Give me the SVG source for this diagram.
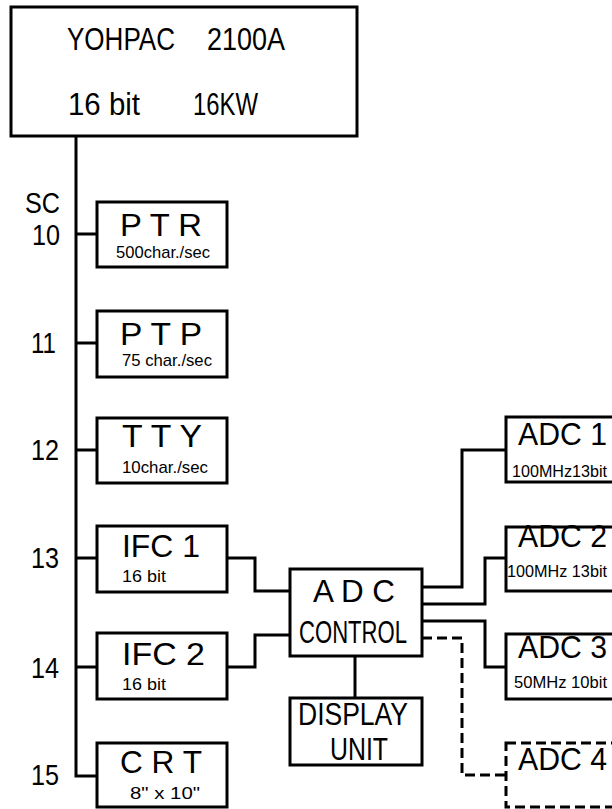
<svg xmlns="http://www.w3.org/2000/svg" width="612" height="809" viewBox="0 0 612 809">
<style>
.box{fill:#fff;stroke:#000;stroke-width:3}
.dbox{fill:#fff;stroke:#000;stroke-width:3;stroke-dasharray:10 5}
.ln{fill:none;stroke:#000;stroke-width:3}
.dln{fill:none;stroke:#000;stroke-width:3;stroke-dasharray:10 5}
text{font-family:"Liberation Sans","DejaVu Sans",sans-serif;fill:#000}
.big{font-size:31px}
.sm{font-size:17px}
.lbl{font-size:29px}
.top{font-size:32px}
</style>
<rect width="612" height="809" fill="#fff"/>
<g id="connectors">
<path class="ln" d="M76 136 V776 H97"/>
<path class="ln" d="M76 234 H97 M76 343 H97 M76 450 H97 M76 558 H97 M76 667 H97"/>
<path class="ln" d="M227 558 H255 V591 H290"/>
<path class="ln" d="M227 667 H255 V635 H290"/>
<path class="ln" d="M355 656 V698"/>
<path class="ln" d="M422 587 H462 V450 H506"/>
<path class="ln" d="M422 604 H485 V558 H506"/>
<path class="ln" d="M422 621 H485 V667 H506"/>
<path class="dln" d="M422 638 H462 V775 H506"/>
</g>
<g id="yohpac">
<rect class="box" x="11" y="7" width="346" height="129"/>
<text class="top" x="67" y="50" textLength="108" lengthAdjust="spacingAndGlyphs">YOHPAC</text>
<text class="top" x="207" y="50" textLength="78" lengthAdjust="spacingAndGlyphs">2100A</text>
<text class="top" x="68" y="115" textLength="72" lengthAdjust="spacingAndGlyphs">16 bit</text>
<text class="top" x="193" y="115" textLength="65" lengthAdjust="spacingAndGlyphs">16KW</text>
</g>
<g id="sc-labels">
<text class="lbl" x="25" y="213" textLength="35" lengthAdjust="spacingAndGlyphs">SC</text>
<text class="lbl" x="32" y="245" textLength="28" lengthAdjust="spacingAndGlyphs">10</text>
<text class="lbl" x="31" y="353" textLength="25" lengthAdjust="spacingAndGlyphs">11</text>
<text class="lbl" x="31" y="460" textLength="28" lengthAdjust="spacingAndGlyphs">12</text>
<text class="lbl" x="31" y="568" textLength="28" lengthAdjust="spacingAndGlyphs">13</text>
<text class="lbl" x="31" y="678" textLength="28" lengthAdjust="spacingAndGlyphs">14</text>
<text class="lbl" x="31" y="785" textLength="28" lengthAdjust="spacingAndGlyphs">15</text>
</g>
<g id="ptr">
<rect class="box" x="97" y="202" width="130" height="65"/>
<text class="big" x="120" y="236" textLength="82" lengthAdjust="spacingAndGlyphs">P T R</text>
<text class="sm" x="116" y="258" textLength="94" lengthAdjust="spacingAndGlyphs">500char./sec</text>
</g>
<g id="ptp">
<rect class="box" x="97" y="311" width="130" height="66"/>
<text class="big" x="120" y="345" textLength="82" lengthAdjust="spacingAndGlyphs">P T P</text>
<text class="sm" x="122" y="366" textLength="90" lengthAdjust="spacingAndGlyphs">75 char./sec</text>
</g>
<g id="tty">
<rect class="box" x="97" y="418" width="130" height="65"/>
<text class="big" x="122" y="447" textLength="80" lengthAdjust="spacingAndGlyphs">T T Y</text>
<text class="sm" x="122" y="473" textLength="86" lengthAdjust="spacingAndGlyphs">10char./sec</text>
</g>
<g id="ifc1">
<rect class="box" x="97" y="526" width="130" height="66"/>
<text class="big" x="122" y="557" textLength="78" lengthAdjust="spacingAndGlyphs">IFC 1</text>
<text class="sm" x="122" y="582" textLength="44" lengthAdjust="spacingAndGlyphs">16 bit</text>
</g>
<g id="ifc2">
<rect class="box" x="97" y="633" width="130" height="66"/>
<text class="big" x="122" y="665" textLength="83" lengthAdjust="spacingAndGlyphs">IFC 2</text>
<text class="sm" x="122" y="690" textLength="44" lengthAdjust="spacingAndGlyphs">16 bit</text>
</g>
<g id="crt">
<rect class="box" x="97" y="743" width="130" height="64"/>
<text class="big" x="120" y="773" textLength="82" lengthAdjust="spacingAndGlyphs">C R T</text>
<text class="sm" x="130" y="799" textLength="70" lengthAdjust="spacingAndGlyphs">8" x 10"</text>
</g>
<g id="adc-control">
<rect class="box" x="290" y="569" width="132" height="87"/>
<text class="big" x="313" y="602" textLength="82" lengthAdjust="spacingAndGlyphs">A D C</text>
<text class="big" x="299" y="643" textLength="108" lengthAdjust="spacingAndGlyphs">CONTROL</text>
</g>
<g id="display-unit">
<rect class="box" x="290" y="698" width="132" height="67"/>
<text class="big" x="298" y="725" textLength="110" lengthAdjust="spacingAndGlyphs">DISPLAY</text>
<text class="big" x="330" y="760" textLength="58" lengthAdjust="spacingAndGlyphs">UNIT</text>
</g>
<g id="adc1">
<rect class="box" x="506" y="417" width="120" height="65"/>
<text class="big" x="518" y="445" textLength="89" lengthAdjust="spacingAndGlyphs">ADC 1</text>
<text class="sm" x="512" y="477" textLength="95" lengthAdjust="spacingAndGlyphs">100MHz13bit</text>
</g>
<g id="adc2">
<rect class="box" x="506" y="527" width="120" height="64"/>
<text class="big" x="518" y="547" textLength="89" lengthAdjust="spacingAndGlyphs">ADC 2</text>
<text class="sm" x="507" y="577" textLength="100" lengthAdjust="spacingAndGlyphs">100MHz 13bit</text>
</g>
<g id="adc3">
<rect class="box" x="506" y="634" width="120" height="65"/>
<text class="big" x="518" y="658" textLength="89" lengthAdjust="spacingAndGlyphs">ADC 3</text>
<text class="sm" x="514" y="688" textLength="93" lengthAdjust="spacingAndGlyphs">50MHz 10bit</text>
</g>
<g id="adc4">
<rect class="dbox" x="506" y="743" width="120" height="64"/>
<text class="big" x="518" y="770" textLength="89" lengthAdjust="spacingAndGlyphs">ADC 4</text>
</g>
</svg>
